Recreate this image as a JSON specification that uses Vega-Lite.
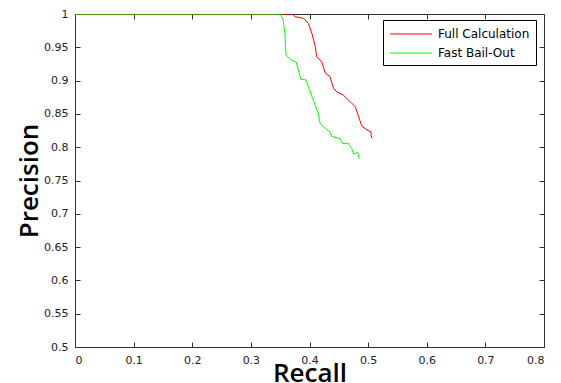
{
  "$schema": "https://vega.github.io/schema/vega-lite/v6.json",
  "width": 469,
  "height": 333,
  "autosize": "none",
  "padding": {"left": 75, "top": 14, "right": 17, "bottom": 36},
  "background": "white",
  "config": {
    "view": {"stroke": "#333", "strokeWidth": 1},
    "axis": {"grid": false, "domainColor": "#333", "tickColor": "#333", "labelFont": "DejaVu Sans", "labelFontSize": 11, "labelColor": "#222", "titleFont": "Open Sans", "titleFontSize": 26, "titleFontWeight": 600, "titleColor": "#000", "tickSize": -5, "labelPadding": 12}
  },
  "data": {"values": [
    {"s": "Full Calculation", "o": 0, "r": 0.0, "p": 1.0},
    {"s": "Full Calculation", "o": 1, "r": 0.371, "p": 1.0},
    {"s": "Full Calculation", "o": 2, "r": 0.375, "p": 0.996},
    {"s": "Full Calculation", "o": 3, "r": 0.39, "p": 0.9935},
    {"s": "Full Calculation", "o": 4, "r": 0.398, "p": 0.986},
    {"s": "Full Calculation", "o": 5, "r": 0.404, "p": 0.971},
    {"s": "Full Calculation", "o": 6, "r": 0.41, "p": 0.951},
    {"s": "Full Calculation", "o": 7, "r": 0.412, "p": 0.936},
    {"s": "Full Calculation", "o": 8, "r": 0.421, "p": 0.928},
    {"s": "Full Calculation", "o": 9, "r": 0.427, "p": 0.911},
    {"s": "Full Calculation", "o": 10, "r": 0.435, "p": 0.906},
    {"s": "Full Calculation", "o": 11, "r": 0.441, "p": 0.888},
    {"s": "Full Calculation", "o": 12, "r": 0.447, "p": 0.883},
    {"s": "Full Calculation", "o": 13, "r": 0.458, "p": 0.878},
    {"s": "Full Calculation", "o": 14, "r": 0.472, "p": 0.866},
    {"s": "Full Calculation", "o": 15, "r": 0.478, "p": 0.861},
    {"s": "Full Calculation", "o": 16, "r": 0.483, "p": 0.848},
    {"s": "Full Calculation", "o": 17, "r": 0.489, "p": 0.832},
    {"s": "Full Calculation", "o": 18, "r": 0.498, "p": 0.826},
    {"s": "Full Calculation", "o": 19, "r": 0.505, "p": 0.823},
    {"s": "Full Calculation", "o": 20, "r": 0.505, "p": 0.818},
    {"s": "Full Calculation", "o": 21, "r": 0.507, "p": 0.813},
    {"s": "Fast Bail-Out", "o": 0, "r": 0.0, "p": 1.0},
    {"s": "Fast Bail-Out", "o": 1, "r": 0.35, "p": 1.0},
    {"s": "Fast Bail-Out", "o": 2, "r": 0.355, "p": 0.991},
    {"s": "Fast Bail-Out", "o": 3, "r": 0.358, "p": 0.971},
    {"s": "Fast Bail-Out", "o": 4, "r": 0.36, "p": 0.938},
    {"s": "Fast Bail-Out", "o": 5, "r": 0.367, "p": 0.932},
    {"s": "Fast Bail-Out", "o": 6, "r": 0.377, "p": 0.928},
    {"s": "Fast Bail-Out", "o": 7, "r": 0.381, "p": 0.916},
    {"s": "Fast Bail-Out", "o": 8, "r": 0.385, "p": 0.902},
    {"s": "Fast Bail-Out", "o": 9, "r": 0.394, "p": 0.901},
    {"s": "Fast Bail-Out", "o": 10, "r": 0.404, "p": 0.876},
    {"s": "Fast Bail-Out", "o": 11, "r": 0.415, "p": 0.851},
    {"s": "Fast Bail-Out", "o": 12, "r": 0.418, "p": 0.836},
    {"s": "Fast Bail-Out", "o": 13, "r": 0.427, "p": 0.828},
    {"s": "Fast Bail-Out", "o": 14, "r": 0.435, "p": 0.823},
    {"s": "Fast Bail-Out", "o": 15, "r": 0.438, "p": 0.816},
    {"s": "Fast Bail-Out", "o": 16, "r": 0.452, "p": 0.813},
    {"s": "Fast Bail-Out", "o": 17, "r": 0.457, "p": 0.805},
    {"s": "Fast Bail-Out", "o": 18, "r": 0.466, "p": 0.806},
    {"s": "Fast Bail-Out", "o": 19, "r": 0.472, "p": 0.798},
    {"s": "Fast Bail-Out", "o": 20, "r": 0.475, "p": 0.79},
    {"s": "Fast Bail-Out", "o": 21, "r": 0.482, "p": 0.792},
    {"s": "Fast Bail-Out", "o": 22, "r": 0.485, "p": 0.782}
  ]},
  "layer": [
    {
      "mark": {"type": "line", "strokeWidth": 1, "clip": true},
      "encoding": {
        "x": {"field": "r", "type": "quantitative", "scale": {"domain": [0, 0.8], "nice": false, "zero": false},
              "axis": {"orient": "bottom", "title": "Recall", "values": [0, 0.1, 0.2, 0.3, 0.4, 0.5, 0.6, 0.7, 0.8], "format": "~g", "titleBaseline": "alphabetic", "titleY": 34}},
        "y": {"field": "p", "type": "quantitative", "scale": {"domain": [0.5, 1], "nice": false, "zero": false},
              "axis": {"orient": "left", "title": "Precision", "values": [0.5, 0.55, 0.6, 0.65, 0.7, 0.75, 0.8, 0.85, 0.9, 0.95, 1], "format": "~g", "titleBaseline": "alphabetic", "titleX": -38, "titleY": 166.5}},
        "order": {"field": "o", "type": "quantitative"},
        "color": {"field": "s", "type": "nominal",
                  "scale": {"domain": ["Full Calculation", "Fast Bail-Out"], "range": ["#ff0000", "#00ff00"]},
                  "legend": {"title": null, "orient": "none", "legendX": 308, "legendY": 6,
                             "symbolType": "M-1,0H5", "symbolSize": 196, "symbolStrokeWidth": 1.2,
                             "labelOffset": 33, "labelFont": "DejaVu Sans", "labelFontSize": 12, "labelColor": "#000",
                             "padding": 6, "rowPadding": 5, "strokeColor": "#000", "fillColor": "#fff"}}
      }
    },
    {
      "mark": {"type": "line", "opacity": 0},
      "encoding": {
        "x": {"field": "r", "type": "quantitative", "axis": {"orient": "top", "title": null, "labels": false, "domain": false, "values": [0, 0.1, 0.2, 0.3, 0.4, 0.5, 0.6, 0.7, 0.8]}},
        "y": {"field": "p", "type": "quantitative", "axis": {"orient": "right", "title": null, "labels": false, "domain": false, "values": [0.5, 0.55, 0.6, 0.65, 0.7, 0.75, 0.8, 0.85, 0.9, 0.95, 1]}},
        "detail": {"field": "s"},
        "order": {"field": "o", "type": "quantitative"}
      }
    }
  ],
  "resolve": {"axis": {"x": "independent", "y": "independent"}}
}
